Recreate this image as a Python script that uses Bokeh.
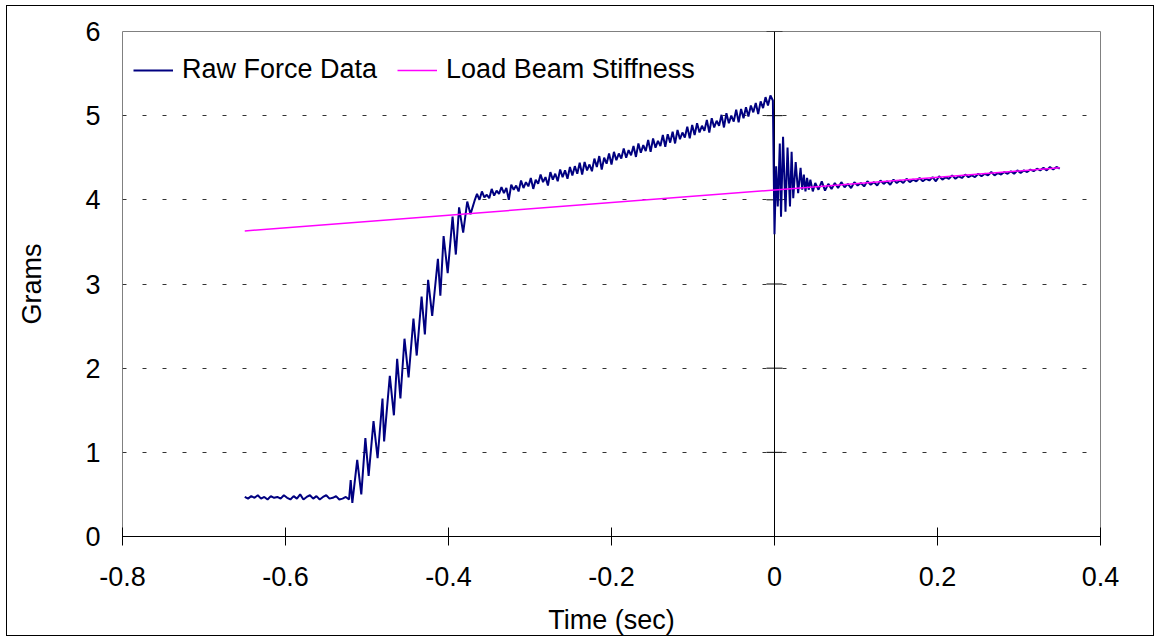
from bokeh.plotting import figure
from bokeh.models import Range1d, FixedTicker, Span, Legend, LegendItem, LinearAxis, Grid
from bokeh.embed import file_html
from bokeh.resources import INLINE

# ---------------- data ----------------
# Raw force data: baseline before contact
t_base = [-0.650, -0.646, -0.642, -0.638, -0.634, -0.630, -0.626, -0.622, -0.618, -0.614,
          -0.610, -0.606, -0.602, -0.598, -0.594, -0.590, -0.586, -0.582, -0.578, -0.574,
          -0.570, -0.566, -0.562, -0.558, -0.554, -0.550, -0.546, -0.542, -0.538, -0.534,
          -0.530, -0.526, -0.522]
f_base = [0.47, 0.45, 0.48, 0.46, 0.49, 0.45, 0.47, 0.44, 0.48, 0.46,
          0.47, 0.45, 0.49, 0.46, 0.44, 0.48, 0.45, 0.50, 0.44, 0.47,
          0.49, 0.45, 0.48, 0.44, 0.47, 0.49, 0.45, 0.46, 0.48, 0.44,
          0.45, 0.47, 0.44]

# Raw force data: loading ramp with oscillation
t_rise = [-0.520, -0.518, -0.512, -0.507, -0.502, -0.498, -0.492, -0.487, -0.481, -0.479,
          -0.472, -0.467, -0.463, -0.459, -0.454, -0.449, -0.443, -0.439, -0.433, -0.429,
          -0.425, -0.420, -0.413, -0.410, -0.406, -0.401, -0.395, -0.391, -0.387, -0.382,
          -0.377, -0.373]
f_rise = [0.67, 0.40, 0.91, 0.50, 1.17, 0.72, 1.37, 0.93, 1.64, 1.13,
          1.91, 1.44, 2.11, 1.64, 2.35, 1.89, 2.59, 2.15, 2.85, 2.40,
          3.05, 2.62, 3.30, 2.86, 3.57, 3.13, 3.80, 3.35, 3.91, 3.61,
          3.98, 3.83]

# Raw force data: slow climb up to release
t_climb = [-0.368, -0.365, -0.362, -0.359, -0.356, -0.353, -0.350, -0.347, -0.344, -0.341,
           -0.338, -0.335, -0.332, -0.329, -0.326, -0.323, -0.320, -0.317, -0.314, -0.311,
           -0.308, -0.305, -0.302, -0.299, -0.296, -0.293, -0.290, -0.287, -0.284, -0.281,
           -0.278, -0.275, -0.272, -0.269, -0.266, -0.263, -0.260, -0.257, -0.254, -0.251,
           -0.248, -0.245, -0.242, -0.239, -0.236, -0.233, -0.230, -0.227, -0.224, -0.221,
           -0.218, -0.215, -0.212, -0.209, -0.206, -0.203, -0.200, -0.197, -0.194, -0.191,
           -0.188, -0.185, -0.182, -0.179, -0.176, -0.173, -0.170, -0.167, -0.164, -0.161,
           -0.158, -0.155, -0.152, -0.149, -0.146, -0.143, -0.140, -0.137, -0.134, -0.131,
           -0.128, -0.125, -0.122, -0.119, -0.116, -0.113, -0.110, -0.107, -0.104, -0.101,
           -0.098, -0.095, -0.092, -0.089, -0.086, -0.083, -0.080, -0.077, -0.074, -0.071,
           -0.068, -0.065, -0.062, -0.059, -0.056, -0.053, -0.050, -0.047, -0.044, -0.041,
           -0.038, -0.035, -0.032, -0.029, -0.026, -0.023, -0.020, -0.017, -0.014, -0.011,
           -0.008, -0.005]
f_climb = [3.99, 4.07, 4.00, 4.10, 4.03, 4.06, 4.02, 4.13, 4.05, 4.11,
           4.07, 4.15, 4.08, 4.14, 4.00, 4.18, 4.12, 4.17, 4.10, 4.23,
           4.14, 4.21, 4.16, 4.26, 4.13, 4.24, 4.19, 4.30, 4.21, 4.27,
           4.17, 4.33, 4.24, 4.31, 4.22, 4.36, 4.27, 4.35, 4.25, 4.39,
           4.29, 4.40, 4.31, 4.44, 4.30, 4.45, 4.35, 4.42, 4.34, 4.49,
           4.39, 4.52, 4.36, 4.50, 4.43, 4.55, 4.42, 4.57, 4.47, 4.55,
           4.49, 4.61, 4.50, 4.59, 4.53, 4.64, 4.51, 4.67, 4.56, 4.65,
           4.58, 4.71, 4.57, 4.73, 4.62, 4.70, 4.64, 4.77, 4.63, 4.78,
           4.68, 4.81, 4.67, 4.83, 4.72, 4.80, 4.74, 4.87, 4.73, 4.89,
           4.77, 4.91, 4.80, 4.88, 4.82, 4.95, 4.80, 4.97, 4.86, 4.94,
           4.88, 5.01, 4.86, 5.03, 4.91, 5.00, 4.93, 5.07, 4.92, 5.08,
           4.97, 5.10, 4.99, 5.12, 5.04, 5.15, 5.02, 5.17, 5.09, 5.22,
           5.12, 5.24]

# Raw force data: release and ringing
t_ring = [-0.002, 0.000, 0.002, 0.004, 0.0065, 0.008, 0.0105, 0.0135, 0.016, 0.019,
          0.021, 0.023, 0.026, 0.029, 0.032, 0.034, 0.036, 0.038, 0.040, 0.042,
          0.044, 0.047]
f_ring = [5.18, 3.59, 4.40, 3.92, 4.67, 3.80, 4.75, 3.86, 4.62, 3.92,
          4.57, 4.02, 4.45, 4.08, 4.38, 4.12, 4.30, 4.10, 4.26, 4.12,
          4.24, 4.10]

# Raw force data: settled on the load beam
t_settle = [0.050, 0.054, 0.058, 0.062, 0.066, 0.070, 0.074, 0.078, 0.082, 0.086,
            0.090, 0.094, 0.098, 0.102, 0.106, 0.110, 0.114, 0.118, 0.122, 0.126,
            0.130, 0.134, 0.138, 0.142, 0.146, 0.150, 0.154, 0.158, 0.162, 0.166,
            0.170, 0.174, 0.178, 0.182, 0.186, 0.190, 0.194, 0.198, 0.202, 0.206,
            0.210, 0.214, 0.218, 0.222, 0.226, 0.230, 0.234, 0.238, 0.242, 0.246,
            0.250, 0.254, 0.258, 0.262, 0.266, 0.270, 0.274, 0.278, 0.282, 0.286,
            0.290, 0.294, 0.298, 0.302, 0.306, 0.310, 0.314, 0.318, 0.322, 0.326,
            0.330, 0.334, 0.338, 0.342, 0.346, 0.350]
f_settle = [4.20, 4.12, 4.22, 4.11, 4.19, 4.13, 4.20, 4.14, 4.21, 4.15,
            4.19, 4.14, 4.21, 4.17, 4.20, 4.16, 4.22, 4.18, 4.21, 4.17,
            4.23, 4.19, 4.22, 4.18, 4.24, 4.20, 4.23, 4.20, 4.25, 4.21,
            4.24, 4.22, 4.26, 4.22, 4.25, 4.23, 4.27, 4.22, 4.28, 4.24,
            4.27, 4.25, 4.29, 4.25, 4.28, 4.26, 4.30, 4.27, 4.29, 4.27,
            4.31, 4.28, 4.31, 4.29, 4.33, 4.29, 4.32, 4.30, 4.33, 4.31,
            4.34, 4.31, 4.35, 4.32, 4.35, 4.33, 4.36, 4.34, 4.37, 4.35,
            4.38, 4.35, 4.39, 4.36, 4.39, 4.37]

# Load beam stiffness line (end points)
stiff_t = [-0.65, 0.35]
stiff_f = [3.63, 4.38]

# Axis ticks and labels
x_ticks = [-0.8, -0.6, -0.4, -0.2, 0.0, 0.2, 0.4]
x_tick_labels = ["-0.8", "-0.6", "-0.4", "-0.2", "0", "0.2", "0.4"]
y_ticks = [0, 1, 2, 3, 4, 5, 6]
y_tick_labels = ["0", "1", "2", "3", "4", "5", "6"]

raw_t = t_base + t_rise + t_climb + t_ring + t_settle
raw_f = f_base + f_rise + f_climb + f_ring + f_settle

# ---------------- figure ----------------
FONT = "Liberation Sans"
FS = "27px"

p = figure(width=1148, height=631, output_backend="svg", toolbar_location=None,
           x_range=Range1d(-0.8, 0.4), y_range=Range1d(0, 6),
           min_border_left=115, min_border_right=55, min_border_top=25, min_border_bottom=98,
           x_axis_location=None, y_axis_location=None)
p.styles = {"border": "1px solid black", "margin-left": "6px", "margin-top": "5px"}
p.background_fill_color = "white"
p.border_fill_color = "white"
p.outline_line_color = "#808080"
p.outline_line_width = 1

# x axis
xaxis = LinearAxis(ticker=FixedTicker(ticks=x_ticks),
                   major_label_overrides={t: l for t, l in zip(x_ticks, x_tick_labels)},
                   axis_label="Time (sec)")
xaxis.axis_line_color = "black"
xaxis.major_tick_line_color = "black"
xaxis.major_tick_in = 9
xaxis.major_tick_out = 9
xaxis.minor_tick_line_color = None
xaxis.major_label_standoff = 21
xaxis.axis_label_standoff = 16
xaxis.major_label_text_font = FONT
xaxis.major_label_text_font_size = FS
xaxis.major_label_text_color = "black"
xaxis.axis_label_text_font = FONT
xaxis.axis_label_text_font_size = FS
xaxis.axis_label_text_font_style = "normal"
xaxis.axis_label_text_color = "black"
p.add_layout(xaxis, "below")

# y axis (labels only, axis line drawn at x = 0)
yaxis = LinearAxis(ticker=FixedTicker(ticks=y_ticks),
                   major_label_overrides={t: l for t, l in zip(y_ticks, y_tick_labels)},
                   axis_label="Grams")
yaxis.axis_line_color = None
yaxis.major_tick_line_color = None
yaxis.minor_tick_line_color = None
yaxis.major_tick_in = 0
yaxis.major_tick_out = 0
yaxis.major_label_standoff = 22
yaxis.axis_label_standoff = 35
yaxis.major_label_text_font = FONT
yaxis.major_label_text_font_size = FS
yaxis.major_label_text_color = "black"
yaxis.axis_label_text_font = FONT
yaxis.axis_label_text_font_size = FS
yaxis.axis_label_text_font_style = "normal"
yaxis.axis_label_text_color = "black"
p.add_layout(yaxis, "left")

# grid
p.xgrid.visible = False
p.ygrid.visible = False
hgrid = Grid(dimension=1, ticker=FixedTicker(ticks=y_ticks[1:-1]),
             grid_line_color="#333333", grid_line_dash="4 16", grid_line_width=1)
p.add_layout(hgrid)

# vertical axis line at x = 0 with crossing ticks
p.add_layout(Span(location=0, dimension="height", line_color="black", line_width=1,
                  level="underlay"))
p.scatter(x=[0] * len(y_ticks), y=y_ticks, marker="dash", size=16,
          line_color="black", line_width=1, level="underlay")

# series
r_raw = p.line(raw_t, raw_f, line_color="#000080", line_width=2)
r_stiff = p.line(stiff_t, stiff_f, line_color="#FF00FF", line_width=1.5)

legend = Legend(items=[LegendItem(label="Raw Force Data", renderers=[r_raw]),
                       LegendItem(label="Load Beam Stiffness", renderers=[r_stiff])],
                orientation="horizontal", location=(11, 451))
legend.border_line_color = None
legend.background_fill_alpha = 0
legend.padding = 0
legend.margin = 0
legend.spacing = 20
legend.glyph_width = 40
legend.label_standoff = 9
legend.label_text_font = FONT
legend.label_text_font_size = FS
legend.label_text_color = "black"
p.add_layout(legend)

open("out.html", "w").write(file_html(p, INLINE))
